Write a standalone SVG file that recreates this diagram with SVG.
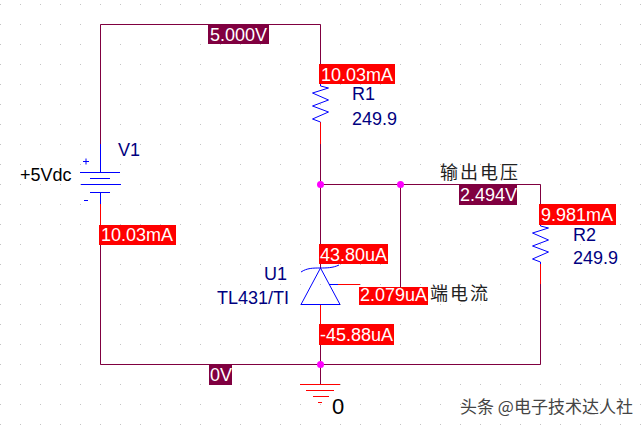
<svg xmlns="http://www.w3.org/2000/svg" width="644" height="429" viewBox="0 0 644 429">
<style>
.w{fill:none;stroke:#800040;stroke-width:1}
.r{fill:none;stroke:#ff0000;stroke-width:1}
.b{fill:none;stroke:#0000ff;stroke-width:1}
.g{fill:none;stroke:#ff0000;stroke-width:1}
text{font-family:"Liberation Sans",Arial,sans-serif}
.i{font-size:18px;fill:#fff}
.n{font-size:18px;fill:#000080}
.k{font-size:18px;fill:#000}
.c{font-size:18px;fill:#222;letter-spacing:2px;font-family:"Noto Sans CJK SC","Liberation Sans",sans-serif}
.lr{fill:#ff0000}
.lv{fill:#800040}
.d{fill:#ff00ff}
</style>
<defs>
<pattern id="grid" x="0" y="4" width="20" height="20" patternUnits="userSpaceOnUse"><rect x="0" y="0" width="1" height="1" fill="#c4c4c4"/></pattern>
</defs>
<rect width="644" height="429" fill="#fff"/>
<rect width="644" height="429" fill="url(#grid)"/>
<g id="connectors">
<path class="w" d="M100.500 144V24.500H320.500V64"/>
<path class="w" d="M100.500 244V364.500H540.500V264"/>
<path class="w" d="M320.500 144V268"/>
<path class="w" d="M320.500 184.500H540.500V224"/>
<path class="w" d="M400.500 184.500V287"/>
<path class="w" d="M320.500 340V384"/>
<path class="r" d="M320.500 64V84M320.500 122V144M100.500 204V244M540.500 204V226M540.500 263V284M320.500 304V340M338 284.500H360"/>
</g>
<g id="V1">
<path class="b" d="M100.500 144V172.500M80 172.500H120M90 178.500H110M81 184.500H121M90 192.500H110M100.500 192.500V204M83 161.500H89M86 158.500V164.500M84 200.500H88"/>
<text class="n" x="118" y="156">V1</text>
<text class="k" x="20" y="181">+5Vdc</text>
</g>
<g id="R1">
<path class="b" d="M320.500 84V86L328.500 88L312.500 93L328.500 100L312.500 106L328.500 112L312.500 119L320.500 122"/>
<text class="n" x="352" y="100">R1</text>
<text class="n" x="352" y="125">249.9</text>
</g>
<g id="R2">
<path class="b" d="M540.500 224V226L548.500 228L532.500 233L548.500 240L532.500 246L548.500 252L532.500 259L540.500 262V264"/>
<text class="n" x="573" y="241">R2</text>
<text class="n" x="573" y="264">249.9</text>
</g>
<g id="U1">
<path class="b" d="M320.500 268L340 304.500H301L320.500 268M301 272C307 268 313 268 320.500 268C326 268 333 268 339 265M329 284.500H338"/>
<text class="n" x="264" y="280">U1</text>
<text class="n" x="217" y="304">TL431/TI</text>
</g>
<g id="ground">
<path class="g" d="M300 384.500H340M306 390.500H334M313 396.500H329M318 402.500H322"/>
<text class="k" x="332" y="414" style="font-size:22px">0</text>
</g>
<g id="nodes">
<circle class="d" cx="320.500" cy="184.500" r="3.500"/>
<circle class="d" cx="400.500" cy="184.500" r="3.500"/>
<circle class="d" cx="320.500" cy="364.500" r="3.500"/>
</g>
<g id="label-5V"><rect class="lv" x="208" y="24" width="61" height="20"/><text class="i" x="210" y="41">5.000V</text></g>
<g id="label-0V"><rect class="lv" x="209" y="365" width="23" height="20"/><text class="i" x="210" y="381">0V</text></g>
<g id="label-2494"><rect class="lv" x="459" y="185" width="58" height="20"/><text class="i" x="460" y="201">2.494V</text></g>
<g id="label-i1"><rect class="lr" x="319" y="64" width="76" height="20"/><text class="i" x="321" y="81">10.03mA</text></g>
<g id="label-i2"><rect class="lr" x="99" y="225" width="77" height="20"/><text class="i" x="101" y="241">10.03mA</text></g>
<g id="label-i3"><rect class="lr" x="539" y="204" width="77" height="21"/><text class="i" x="541" y="221">9.981mA</text></g>
<g id="label-i4"><rect class="lr" x="319" y="244" width="69" height="20"/><text class="i" x="320" y="261">43.80uA</text></g>
<g id="label-i5"><rect class="lr" x="359" y="287" width="69" height="18"/><text class="i" x="360" y="301">2.079uA</text></g>
<g id="label-i6"><rect class="lr" x="319" y="324" width="75" height="21"/><text class="i" x="320" y="341">-45.88uA</text></g>
<g id="notes">
<text class="c" x="440" y="179">输出电压</text>
<text class="c" x="430" y="300">端电流</text>
<text x="460" y="413" style="font-size:17px;fill:#444;font-family:'Noto Sans CJK SC','Liberation Sans',sans-serif">头条 @电子技术达人社</text>
</g>
</svg>
